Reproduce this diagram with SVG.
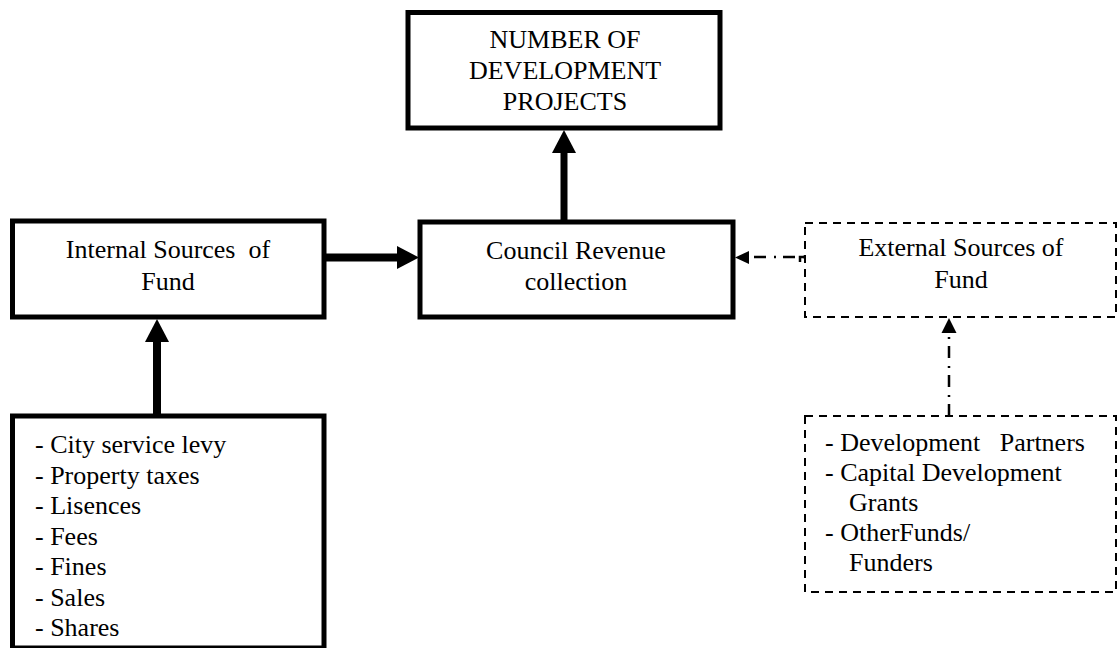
<svg xmlns="http://www.w3.org/2000/svg" width="1117" height="648" viewBox="0 0 1117 648">
<defs>
<style>
.t{font-family:"Liberation Serif","Times New Roman",serif;font-size:26px;fill:#000;white-space:pre}
.c{text-anchor:middle}
.solid{fill:#fff;stroke:#000;stroke-width:5}
.dash{fill:#fff;stroke:#000;stroke-width:2;stroke-dasharray:8 6}
.thick{stroke:#000;stroke-width:8;fill:none}
.dd{stroke:#000;stroke-width:2.5;fill:none;stroke-dasharray:12 7 2 8}
</style>
</defs>
<rect width="1117" height="648" fill="#fff"/>
<g id="node-projects">
<rect class="solid" x="408" y="12.5" width="312" height="115.5"/>
<text class="t c" x="565" y="48">NUMBER OF</text>
<text class="t c" x="565" y="79">DEVELOPMENT</text>
<text class="t c" x="565" y="110">PROJECTS</text>
</g>
<g id="node-internal">
<rect class="solid" x="12.5" y="221" width="311.5" height="96"/>
<text class="t c" x="168" y="258">Internal Sources  of</text>
<text class="t c" x="168" y="290">Fund</text>
</g>
<g id="node-council">
<rect class="solid" x="420" y="222" width="313" height="95"/>
<text class="t c" x="576" y="259">Council Revenue</text>
<text class="t c" x="576" y="290">collection</text>
</g>
<g id="node-external">
<rect class="dash" x="805" y="223" width="311" height="94"/>
<text class="t c" x="961" y="256">External Sources of</text>
<text class="t c" x="961" y="288">Fund</text>
</g>
<g id="node-internal-list">
<rect class="solid" x="12.5" y="416" width="311.5" height="232"/>
<text class="t" x="35" y="453">- City service levy</text>
<text class="t" x="35" y="483.5">- Property taxes</text>
<text class="t" x="35" y="514">- Lisences</text>
<text class="t" x="35" y="544.5">- Fees</text>
<text class="t" x="35" y="575">- Fines</text>
<text class="t" x="35" y="605.5">- Sales</text>
<text class="t" x="35" y="636">- Shares</text>
</g>
<g id="node-external-list">
<rect class="dash" x="805" y="416" width="311" height="176"/>
<text class="t" x="825" y="451">- Development   Partners</text>
<text class="t" x="825" y="481">- Capital Development</text>
<text class="t" x="849" y="511">Grants</text>
<text class="t" x="825" y="541">- OtherFunds/</text>
<text class="t" x="849" y="571">Funders</text>
</g>
<g id="connectors">
<line class="thick" x1="326" y1="257.5" x2="399" y2="257.5"/>
<polygon points="397,246 419,257.5 397,269" fill="#000"/>
<line class="thick" x1="564" y1="220" x2="564" y2="150" style="stroke-width:7"/>
<polygon points="552,153 564,130 576,153" fill="#000"/>
<line class="thick" x1="157" y1="414" x2="157" y2="340"/>
<polygon points="145,342 157,319 169,342" fill="#000"/>
<path class="dd" d="M805,257 L747,257" style="stroke-dasharray:2 8 12 7"/>
<path d="M805,257 L800,257 L800,262" stroke="#000" stroke-width="2.5" fill="none"/>
<polygon points="749,251 735,257.5 749,264" fill="#000"/>
<path class="dd" d="M949,416 L949,332"/>
<polygon points="941.5,333 949,318 956.5,333" fill="#000"/>
</g>
</svg>
